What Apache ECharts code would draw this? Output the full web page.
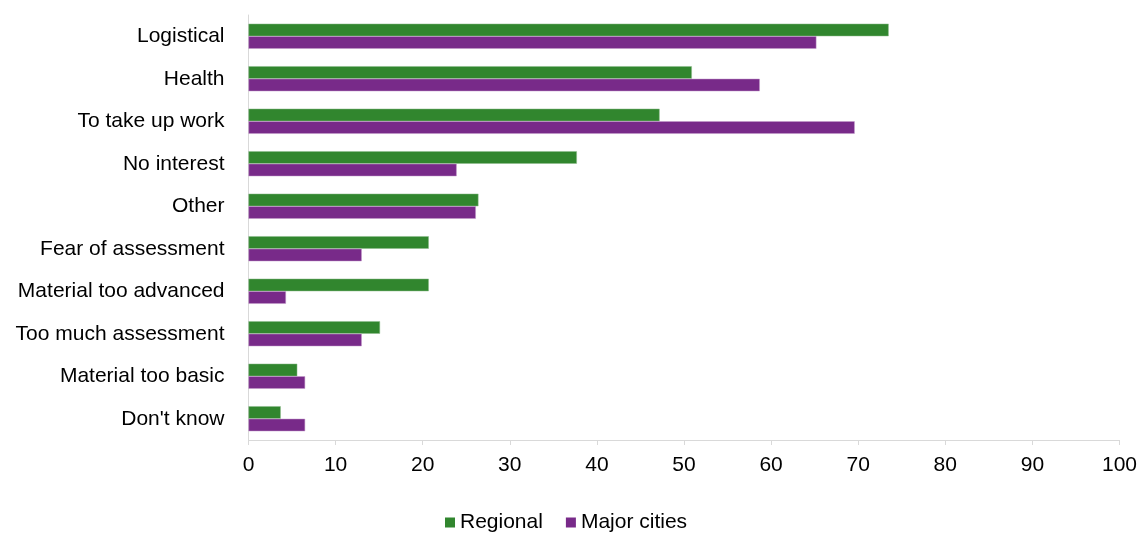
<!DOCTYPE html>
<html>
<head>
<meta charset="utf-8">
<script src="https://cdn.jsdelivr.net/npm/echarts@6/dist/echarts.min.js"></script>
<style>
  html, body { margin: 0; padding: 0; background: #fff; }
  #chart { width: 1140px; height: 534px; }
</style>
</head>
<body>
<div id="chart"></div>
<script>
// reasons, top to bottom as in the picture
const categories = [
  "Logistical", "Health", "To take up work", "No interest", "Other",
  "Fear of assessment", "Material too advanced", "Too much assessment",
  "Material too basic", "Don't know"
];
const regional = [73.5, 50.9, 47.2, 37.7, 26.4, 20.7, 20.7, 15.1, 5.6, 3.7];
const majorCities = [65.2, 58.7, 69.6, 23.9, 26.1, 13.0, 4.3, 13.0, 6.5, 6.5];
const xTicks = { min: 0, max: 100, interval: 10 };

const chart = echarts.init(document.getElementById("chart"));

const font = "'Liberation Sans', Arial, sans-serif";

chart.setOption({
  animation: false,
  textStyle: { fontFamily: font },
  grid: { left: 248.5, right: 18, top: 15, bottom: 94, containLabel: false },
  legend: {
    top: 512,
    left: 445,
    padding: 0,
    itemWidth: 10,
    itemHeight: 10,
    itemGap: 23,
    icon: "rect",
    itemStyle: { borderWidth: 0 },
    textStyle: { fontSize: 21, color: "#000", fontFamily: font },
    data: ["Regional", "Major cities"]
  },
  xAxis: {
    type: "value",
    min: xTicks.min,
    max: xTicks.max,
    interval: xTicks.interval,
    axisLine: { show: true, lineStyle: { color: "#d9d9d9", width: 1 } },
    axisTick: { show: true, length: 5, lineStyle: { color: "#d9d9d9" } },
    splitLine: { show: false },
    axisLabel: { fontSize: 21, color: "#000", margin: 15, fontFamily: font }
  },
  yAxis: {
    type: "category",
    inverse: true,
    data: categories,
    axisLine: { show: true, lineStyle: { color: "#d9d9d9", width: 1 } },
    axisTick: { show: false },
    axisLabel: { fontSize: 21, color: "#000", margin: 24, fontFamily: font }
  },
  series: [
    {
      name: "Regional",
      type: "bar",
      data: regional,
      barGap: "0%",
      barCategoryGap: "41%",
      itemStyle: { color: "#31862e", borderColor: "#8dbb8a", borderWidth: 0.5 }
    },
    {
      name: "Major cities",
      type: "bar",
      data: majorCities,
      itemStyle: { color: "#782a89", borderColor: "#c29bcb", borderWidth: 0.5 }
    }
  ]
});
</script>
</body>
</html>
